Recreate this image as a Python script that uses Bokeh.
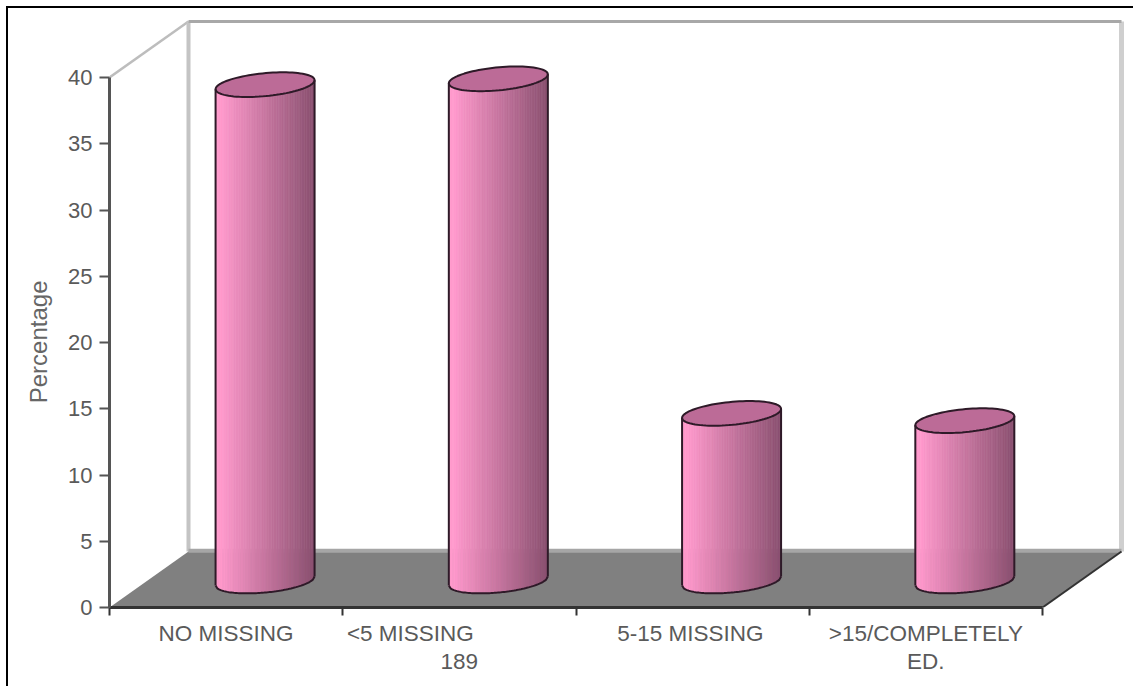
import numpy as np
from bokeh.plotting import figure
from bokeh.models import LinearAxis, FixedTicker, Range1d
from bokeh.embed import file_html
from bokeh.resources import INLINE

categories_line1 = ["NO MISSING", "<5 MISSING", "5-15 MISSING", ">15/COMPLETELY"]
categories_line2 = ["189", "ED."]
percentages = [37.46, 37.9, 12.65, 12.1]
y_ticks = [0, 5, 10, 15, 20, 25, 30, 35, 40]
y_title = "Percentage"

PX_X = 233.25
PX_Y = 13.25
FONT = "Liberation Sans"

p = figure(width=1125, height=678, output_backend="svg", toolbar_location=None,
           x_range=Range1d(0, 1024 / PX_X), y_range=Range1d(0, 599 / PX_Y),
           x_axis_location=None, y_axis_location=None,
           min_border_left=101, min_border_right=0, min_border_top=0, min_border_bottom=79)
p.grid.visible = False
p.outline_line_color = None
p.background_fill_color = "white"
p.styles = {"margin-left": "8px", "margin-top": "8px", "box-sizing": "border-box",
            "outline": "2px solid black", "clip-path": "inset(-2px 0 0 -2px)"}

# 3D box
dx, dy = 79 / PX_X, 56 / PX_Y
p.line([0, dx], [40, 40 + dy], line_color="#BDBDBD", line_width=2.5)
p.line([dx, dx], [40 + dy, dy], line_color="#C4C4C4", line_width=4)
p.line([4 + dx, 4 + dx], [40 + dy, dy], line_color="#CFCFCF", line_width=5)
p.line([dx, 4 + dx], [40 + dy, 40 + dy], line_color="#A8A8A8", line_width=3)
p.patch([0, dx, 4 + dx, 4], [0, dy, dy, 0], fill_color="#808080", line_color=None)
p.line([dx, 4 + dx], [dy + 0.05, dy + 0.05], line_color="#A6A6A6", line_width=4)
p.line([4, 4 + dx], [0, dy], line_color="#333333", line_width=2)


def lerp(t):
    c0 = np.array([255, 153, 204])
    c1 = np.array([138, 80, 112])
    c = c0 + (c1 - c0) * min(max((t - 0.06) / 0.94, 0), 1)
    return "#%02x%02x%02x" % tuple(int(v) for v in c)


a = 49.5 / PX_X
b = 11.5 / PX_Y
k = 4.5 / PX_Y
base = 2.0
N = 60
outline = "#2E1A28"
for i, val in enumerate(percentages):
    cx = i + 0.667
    top = val + base
    edges = np.linspace(-1, 1, N + 1)
    for j in range(N):
        u = np.linspace(edges[j], edges[j + 1], 3)
        xs = cx + a * u
        low = base + k * u - b * np.sqrt(1 - u ** 2)
        high = top + k * u - b * np.sqrt(1 - u ** 2)
        col = lerp((j + 0.5) / N)
        p.patch(np.r_[xs, xs[::-1]], np.r_[low, high[::-1]], fill_color=col,
                line_color=col, line_width=0.7)
    t = np.linspace(0, 2 * np.pi, 90)
    p.patch(cx + a * np.cos(t), top + k * np.cos(t) + b * np.sin(t),
            fill_color="#BC6B97", line_color=outline, line_width=2)
    u = np.linspace(-1, 1, 60)
    p.line(cx + a * u, base + k * u - b * np.sqrt(1 - u ** 2), line_color=outline, line_width=2)
    p.line([cx - a, cx - a], [base - k, top - k], line_color=outline, line_width=2)
    p.line([cx + a, cx + a], [base + k, top + k], line_color=outline, line_width=2)

# value axis
yax = LinearAxis(ticker=FixedTicker(ticks=y_ticks), bounds=(0, 40))
yax.axis_line_color = "#555555"
yax.axis_line_width = 3
yax.major_tick_line_color = "#555555"
yax.major_tick_line_width = 2
yax.major_tick_out = 10
yax.major_tick_in = 0
yax.minor_tick_line_color = None
yax.major_label_text_font = FONT
yax.major_label_text_font_size = "22px"
yax.major_label_text_color = "#5A5A5A"
yax.major_label_standoff = 7
p.add_layout(yax, "left")

# value-axis title, placed as the single labelled tick of an outer axis
title_pos = [(607 - 280) / PX_Y]
tax = LinearAxis(ticker=FixedTicker(ticks=title_pos),
                 major_label_overrides=dict(zip(title_pos, [y_title])),
                 major_label_orientation=np.pi / 2)
tax.axis_line_color = None
tax.major_tick_line_color = None
tax.minor_tick_line_color = None
tax.major_tick_out = 0
tax.major_tick_in = 0
tax.major_label_standoff = 27
tax.major_label_text_font = FONT
tax.major_label_text_font_size = "24px"
tax.major_label_text_color = "#666666"
p.add_layout(tax, "left")

# category axis: boundary ticks as minor ticks, labels at the major ones
line1_pos = [0.5, 1.29, 2.49, 3.5]
xax = LinearAxis(ticker=FixedTicker(ticks=line1_pos, minor_ticks=[0, 1, 2, 3, 4]),
                 bounds=(0, 4), major_label_overrides=dict(zip(line1_pos, categories_line1)))
xax.axis_line_color = "#333333"
xax.axis_line_width = 3
xax.major_tick_line_color = None
xax.major_tick_out = 0
xax.major_tick_in = 0
xax.minor_tick_line_color = "#333333"
xax.minor_tick_line_width = 2
xax.minor_tick_out = 8
xax.minor_tick_in = 0
xax.major_label_standoff = 5
xax.major_label_text_font = FONT
xax.major_label_text_font_size = "22.5px"
xax.major_label_text_color = "#5A5A5A"
p.add_layout(xax, "below")

line2_pos = [1.5, 3.5]
ax2 = LinearAxis(ticker=FixedTicker(ticks=line2_pos),
                 major_label_overrides=dict(zip(line2_pos, categories_line2)))
ax2.axis_line_color = None
ax2.major_tick_line_color = None
ax2.minor_tick_line_color = None
ax2.major_tick_out = 0
ax2.major_tick_in = 0
ax2.major_label_standoff = 0
ax2.major_label_text_font = FONT
ax2.major_label_text_font_size = "22.5px"
ax2.major_label_text_color = "#5A5A5A"
p.add_layout(ax2, "below")

open("out.html", "w").write(file_html(p, INLINE))
